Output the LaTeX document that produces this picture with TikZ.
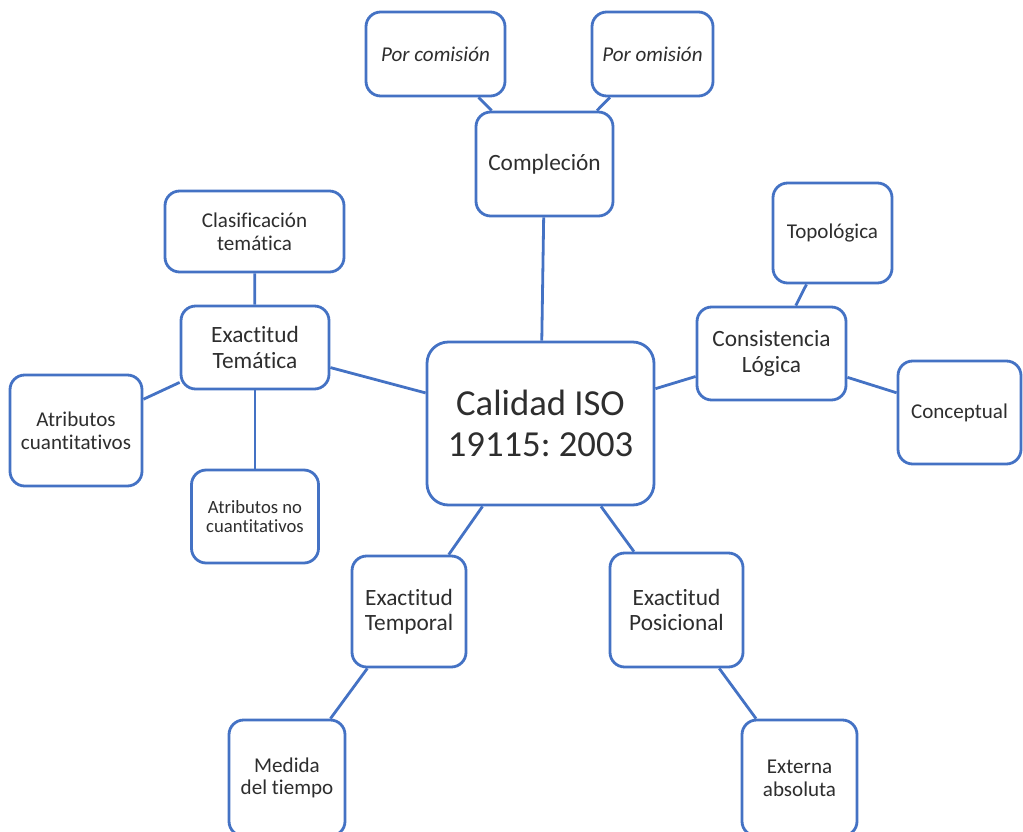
\documentclass[tikz,border=0pt]{standalone}
\usepackage{fontspec}
\setmainfont{Carlito}[Ligatures={NoCommon}]
\frenchspacing
\definecolor{edge}{HTML}{4472C4}
\definecolor{ink}{HTML}{2E2E2E}
\tikzset{
  box/.style 2 args={draw=edge, line width=2.1pt, fill=white, rounded corners=11pt,
    align=center, inner sep=0pt, text=ink,
    minimum width={#1*0.75pt}, minimum height={#2*0.75pt}},
  leaf/.style={font=\fontsize{15.8}{17}\selectfont},
  leafit/.style={font=\fontsize{15.8}{17}\selectfont\itshape},
  branch/.style={font=\fontsize{17.5}{18.8}\selectfont},
  smallleaf/.style={font=\fontsize{14}{14.5}\selectfont},
  hub/.style={font=\fontsize{27.5}{30.8}\selectfont, rounded corners=16pt},
  link/.style={draw=edge, line width=2.1pt}
}
\begin{document}
\begin{tikzpicture}[x=0.75pt,y=-0.75pt]
\useasboundingbox (0,0) rectangle (1023,831);

% box centres
\coordinate (Cpc) at (435.5,54);
\coordinate (Cpo) at (652.5,54);
\coordinate (Ccomp) at (544.5,164);
\coordinate (Cclas) at (254.5,231.5);
\coordinate (Cet) at (255,347.5);
\coordinate (Cac) at (76,430.5);
\coordinate (Canc) at (255,516.5);
\coordinate (Ccal) at (540.5,423.5);
\coordinate (Ctopo) at (832.5,233);
\coordinate (Ccons) at (771.5,353.5);
\coordinate (Cconc) at (959.5,412.5);
\coordinate (Ctemp) at (409,611.5);
\coordinate (Cpos) at (676.5,610);
\coordinate (Cmed) at (287,778);
\coordinate (Cext) at (799.5,778);

% boxes
\node[box={139}{84}, leafit] (pc) at (Cpc) {Por comisión};
\node[box={121}{84}, leafit] (po) at (Cpo) {Por omisión};
\node[box={137}{104}, branch] (comp) at (Ccomp) {Compleción};
\node[box={179}{81}, leaf] (clas) at (Cclas) {Clasificación\\temática};
\node[box={148}{83}, branch] (et) at (Cet) {Exactitud\\Temática};
\node[box={132}{111}, leaf] (ac) at (Cac) {Atributos\\cuantitativos};
\node[box={127}{93}, smallleaf] (anc) at (Canc) {Atributos no\\cuantitativos};
\node[box={227}{163}, hub] (cal) at (Ccal) {Calidad ISO\\19115: 2003};
\node[box={119}{100}, leaf] (topo) at (Ctopo) {Topológica};
\node[box={149}{93}, branch] (cons) at (Ccons) {Consistencia\\Lógica};
\node[box={123}{103}, leaf] (conc) at (Cconc) {Conceptual};
\node[box={114}{111}, branch] (temp) at (Ctemp) {Exactitud\\Temporal};
\node[box={133}{114}, branch] (pos) at (Cpos) {Exactitud\\Posicional};
\node[box={116}{116}, leaf] (med) at (Cmed) {Medida\\del tiempo};
\node[box={115}{116}, leaf] (ext) at (Cext) {Externa\\absoluta};

% connectors between boxes
\draw[link] (pc) -- (comp);
\draw[link] (po) -- (comp);
\draw[link] (comp) -- (cal);
\draw[link] (clas) -- (et);
\draw[link] (et) -- (ac);
\draw[link] (et) -- (anc);
\draw[link] (et) -- (cal);
\draw[link] (cal) -- (cons);
\draw[link] (topo) -- (cons);
\draw[link] (cons) -- (conc);
\draw[link] (cal) -- (temp);
\draw[link] (cal) -- (pos);
\draw[link] (temp) -- (med);
\draw[link] (pos) -- (ext);
\end{tikzpicture}
\end{document}
